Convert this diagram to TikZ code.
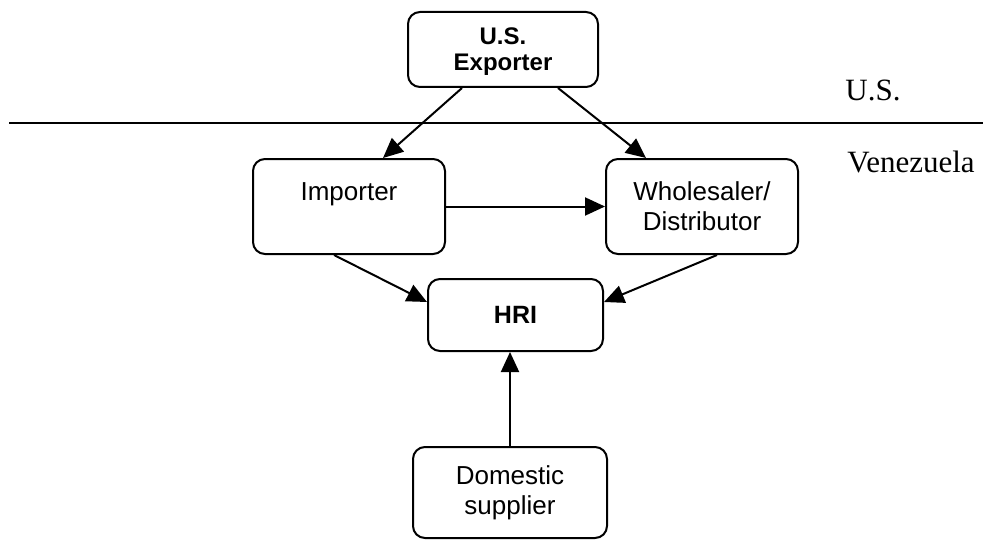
\documentclass[tikz,border=0pt]{standalone}
\usepackage{fontspec}
\setmainfont{Liberation Serif}
\newfontfamily\arialfont{Liberation Sans}
\usepackage{tikz}
\usetikzlibrary{arrows.meta}

\begin{document}
\begin{tikzpicture}[x=0.5pt, y=-0.5pt,
  box/.style={draw=black, line width=1pt, rounded corners=6pt, inner sep=0pt, align=center, font=\arialfont\fontsize{13}{15}\selectfont},
  flow/.style={-{Triangle[length=10pt,width=9pt]}, line width=1pt},
  country/.style={font=\fontsize{15.5}{18}\selectfont}]
\useasboundingbox (0,0) rectangle (983,540);
\node[box, minimum width=95pt, minimum height=37.5pt, text depth=-2.5pt, font=\arialfont\bfseries\fontsize{12}{13}\selectfont] (exp) at (503,49.5) {U.S.\\Exporter};
\node[box, minimum width=96pt, minimum height=47.5pt] (imp) at (349,206.5) {Importer\\ \mbox{}};
\node[box, minimum width=96pt, minimum height=47.5pt] (whl) at (702,206.5) {Wholesaler/\\Distributor};
\node[box, minimum width=87.5pt, minimum height=36pt, font=\arialfont\bfseries\fontsize{12.5}{14}\selectfont] (hri) at (515.5,315) {HRI};
\node[box, minimum width=97pt, minimum height=45.5pt] (dom) at (510,492.5) {Domestic\\supplier};
\node[country] (us) at (873,90) {U.S.};
\node[country] (ven) at (911,162) {Venezuela};

\draw[line width=1pt] (9,123) -- (983,123);

\draw[flow] ([xshift=-20.5pt]exp.south) to ([xshift=17pt]imp.north);
\draw[flow] ([xshift=27.5pt]exp.south) to ([xshift=-28pt]whl.north);
\draw[flow] (imp.east) to (whl.west);
\draw[flow] ([xshift=-7.5pt]imp.south) to ([yshift=6.5pt]hri.west);
\draw[flow] ([xshift=7.5pt]whl.south) to ([yshift=6.5pt]hri.east);
\draw[flow] (dom.north) to (dom.north |- hri.south);
\end{tikzpicture}
\end{document}
